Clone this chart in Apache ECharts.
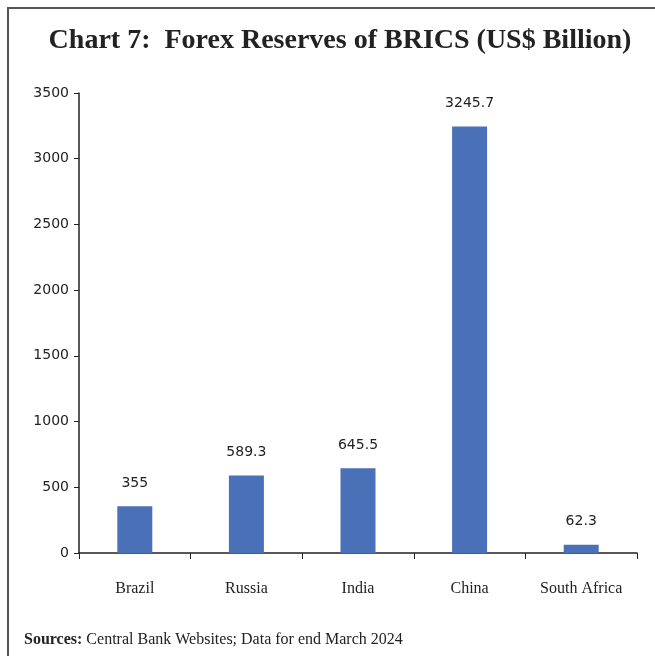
<!DOCTYPE html>
<html><head><meta charset="utf-8">
<script src="https://cdn.jsdelivr.net/npm/echarts@6/dist/echarts.min.js"></script>
<style>html,body{margin:0;padding:0;background:#fff}#c{width:655px;height:656px}</style>
</head><body><div id="c"></div>
<script>
const categories = ["Brazil", "Russia", "India", "China", "South Africa"];
const reserves = [355, 589.3, 645.5, 3245.7, 62.3];
const yTicks = [0, 500, 1000, 1500, 2000, 2500, 3000, 3500];

const chart = echarts.init(document.getElementById('c'), null, {renderer: 'canvas'});
chart.setOption({
  animation: false,
  backgroundColor: '#fff',
  title: {
    text: 'Chart 7:  Forex Reserves of BRICS (US$ Billion)',
    left: 335, top: 22, textAlign: 'center',
    textStyle: {fontFamily: 'Liberation Serif', fontWeight: 'bold', fontSize: 28, color: '#222'}
  },
  graphic: [
    {type: 'rect', shape: {x: 8, y: 8, width: 700, height: 700}, style: {fill: 'none', stroke: '#555', lineWidth: 2}, z: 100},
    {type: 'text', left: 24, top: 632, style: {
      text: '{b|Sources:} Central Bank Websites; Data for end March 2024',
      rich: {b: {fontWeight: 'bold', fontFamily: 'Liberation Serif', fontSize: 16, fill: '#222'}},
      fontFamily: 'Liberation Serif', fontSize: 16, fill: '#222'
    }}
  ],
  grid: {left: 79, right: 18, top: 93, bottom: 103},
  xAxis: {
    type: 'category', data: categories,
    axisLine: {lineStyle: {color: '#222', width: 1.5}},
    axisTick: {show: true, length: 6, lineStyle: {color: '#222'}},
    axisLabel: {fontFamily: 'Liberation Serif', fontSize: 16, color: '#222', margin: 28}
  },
  yAxis: {
    type: 'value', min: yTicks[0], max: yTicks[yTicks.length - 1], interval: 500,
    splitLine: {show: false},
    axisLine: {show: true, lineStyle: {color: '#222', width: 1.5}},
    axisTick: {show: true, length: 5, lineStyle: {color: '#222'}},
    axisLabel: {fontFamily: 'DejaVu Sans', fontSize: 14, color: '#222', margin: 10, formatter: v => String(v)}
  },
  series: [{
    type: 'bar', data: reserves, barWidth: 35,
    itemStyle: {color: '#4A70B7'},
    label: {show: true, position: 'top', distance: 16, fontFamily: 'DejaVu Sans', fontSize: 14, color: '#222'}
  }]
});
</script></body></html>
